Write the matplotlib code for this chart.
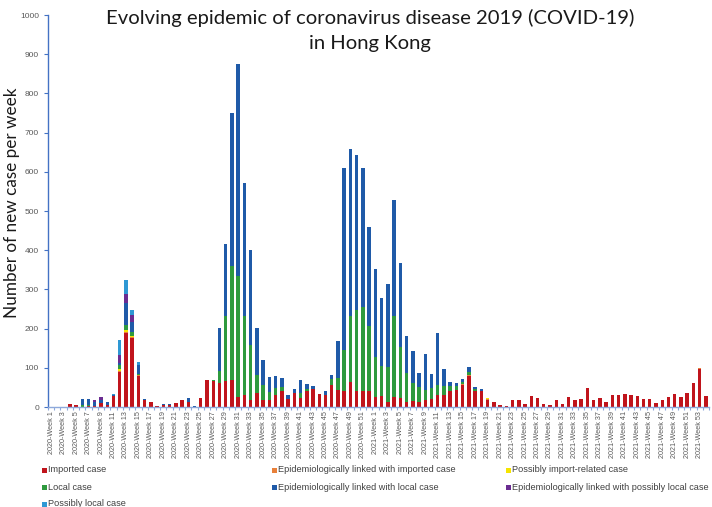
import numpy as np
import matplotlib.pyplot as plt
from matplotlib.patches import Rectangle

# week categories (2020 has 52 weeks here, 2021 runs to week 53, then one more bar)
weeks = ([f"2020-Week {i}" for i in range(1, 53)]
         + [f"2021-Week {i}" for i in range(1, 54)]
         + ["2022-Week 1"])

imported = [0, 0, 0, 8, 6, 1, 2, 2, 9, 5,
            27, 90, 188, 175, 80, 17, 12, 2, 6, 6,
            10, 18, 13, 1, 22, 68, 67, 60, 66, 68,
            25, 31, 19, 36, 17, 17, 31, 40, 20, 36,
            23, 42, 46, 32, 31, 55, 44, 40, 63, 40,
            40, 40, 25, 29, 14, 25, 23, 14, 16, 14,
            19, 20, 30, 31, 42, 44, 57, 79, 41, 41,
            19, 12, 6, 3, 18, 17, 7, 29, 22, 7,
            6, 18, 7, 25, 18, 21, 48, 17, 22, 13,
            31, 31, 33, 31, 27, 20, 20, 11, 18, 25,
            32, 26, 36, 60, 98, 27]
epi_imported = [0] * 11 + [3, 4, 3, 1] + [0] * 51 + [2, 2, 0, 0, 1, 2] + [0] * 32 + [2, 0]
possibly_import = [0] * 11 + [3, 5, 2] + [0] * 53 + [1, 0, 0, 2] + [0] * 35
local = [0, 0, 0, 0, 0, 3, 3, 0, 0, 0,
         0, 10, 13, 12, 3, 0, 0, 0, 0, 0,
         0, 0, 0, 0, 0, 0, 1, 33, 167, 292,
         310, 202, 140, 46, 40, 20, 17, 11, 0, 0,
         13, 5, 0, 0, 0, 16, 30, 106, 168, 208,
         215, 166, 102, 75, 88, 206, 129, 73, 45, 37,
         25, 28, 27, 22, 12, 9, 5, 8, 4, 0] + [0] * 36
epi_local = [0, 0, 0, 0, 0, 17, 16, 12, 10, 9,
             3, 6, 55, 25, 22, 3, 0, 0, 1, 1,
             0, 1, 9, 1, 0, 0, 2, 108, 182, 390,
             540, 338, 242, 119, 62, 39, 30, 23, 11, 11,
             34, 12, 7, 1, 11, 11, 95, 463, 427, 395,
             354, 252, 226, 174, 212, 296, 215, 95, 83, 37,
             92, 37, 132, 44, 11, 8, 8, 11, 5, 6,
             0, 0, 0, 0, 1, 0, 0, 0, 0, 0] + [0] * 26
epi_possibly_local = [0] * 7 + [3, 6, 0, 0, 20, 22, 18] + [0] * 92
possibly_local = [0] * 10 + [3, 38, 38, 13, 8] + [0] * 91

series = [
    ("Imported case", imported, "#C0141C"),
    ("Epidemiologically linked with imported case", epi_imported, "#E8803A"),
    ("Possibly import-related case", possibly_import, "#F5E400"),
    ("Local case", local, "#2E9A3E"),
    ("Epidemiologically linked with local case", epi_local, "#1F5AA8"),
    ("Epidemiologically linked with possibly local case", epi_possibly_local, "#6A2C91"),
    ("Possibly local case", possibly_local, "#2E98D4"),
]

fig = plt.figure(figsize=(7.12, 5.07), dpi=100)
ax = fig.add_axes([48 / 712, 100 / 507, 661 / 712, 392 / 507])

x = np.arange(len(weeks))
bottom = np.zeros(len(weeks))
for name, vals, col in series:
    vals = np.array(vals, dtype=float)
    ax.bar(x, vals, bottom=bottom, width=0.55, color=col, linewidth=0)
    bottom += vals

ax.set_xlim(-0.5, len(weeks) - 0.5)
ax.set_ylim(0, 1000)
ax.set_yticks(range(0, 1001, 100))
ax.tick_params(axis='y', labelsize=6, labelcolor='#595959', color='#4472C4',
               length=3, width=0.8)
ax.set_xticks(x[::2])
ax.set_xticklabels(weeks[::2], rotation=90, fontsize=5.2, color='#595959',
                   family='Liberation Sans')
ax.set_xticks(np.arange(-0.5, len(weeks), 1), minor=True)
ax.tick_params(axis='x', which='major', length=0, pad=3)
ax.tick_params(axis='x', which='minor', length=2.5, color='#8EA9DB', width=0.8)
for lab in ax.get_yticklabels():
    lab.set_family('Liberation Sans')

for s in ['top', 'right']:
    ax.spines[s].set_visible(False)
ax.spines['left'].set_color('#4472C4')
ax.spines['bottom'].set_color('#8EA9DB')
ax.spines['left'].set_linewidth(1)
ax.spines['bottom'].set_linewidth(1)

fig.text(370 / 712, 1 - 18 / 507, "Evolving epidemic of coronavirus disease 2019 (COVID-19)",
         ha='center', va='center', fontsize=14.6, family='Lato', color='#1a1a1a')
fig.text(370 / 712, 1 - 44 / 507, "in Hong Kong",
         ha='center', va='center', fontsize=14.6, family='Lato', color='#1a1a1a')
fig.text(12 / 712, 1 - 203 / 507, "Number of new case per week", rotation=90,
         ha='center', va='center', fontsize=12.3, family='Lato', color='#1a1a1a')

# legend laid out like the spreadsheet: three columns, row-major
col_x = [44, 274, 508]
row_y = [470, 487, 504]
for i, (name, vals, col) in enumerate(series):
    cx = col_x[i % 3]
    cy = row_y[i // 3]
    fig.patches.append(Rectangle(((cx - 2.5) / 712, 1 - (cy + 2.5) / 507), 5 / 712, 5 / 507,
                                 transform=fig.transFigure, facecolor=col, edgecolor='none'))
    fig.text((cx + 4) / 712, 1 - cy / 507, name, ha='left', va='center',
             fontsize=6.6, family='Liberation Sans', color='#404040')

fig.savefig("out.png", dpi=100)
